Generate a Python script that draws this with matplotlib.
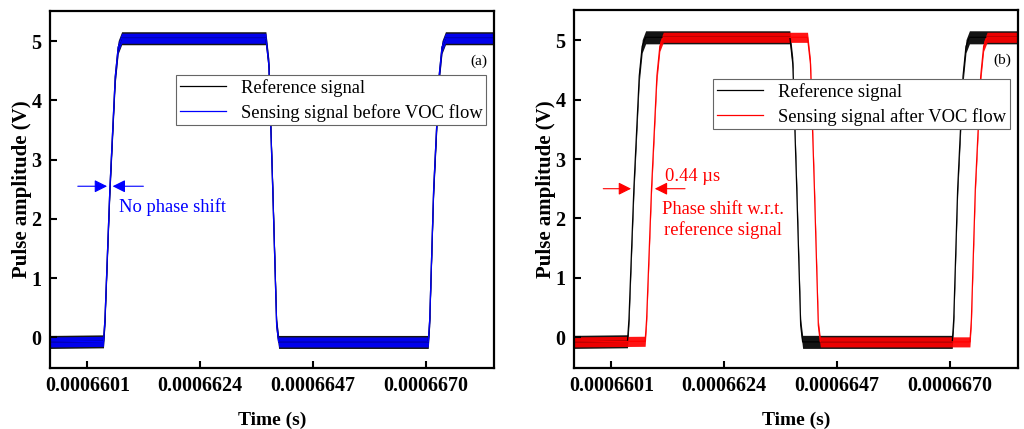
import matplotlib
matplotlib.use("Agg")
import matplotlib.pyplot as plt
import numpy as np
from matplotlib.ticker import FuncFormatter

# corner points of the pulses (time in µs, amplitude in V)
ref_t = [659.34, 660.43, 660.46, 660.56, 660.67, 660.73, 660.80, 663.74, 663.80,
         663.88, 663.96, 664.00, 667.05, 667.08, 667.16, 667.27, 667.33, 667.40, 668.39]
ref_v = [-0.08, -0.07, 0.30, 2.50, 4.40, 4.90, 5.05, 5.05, 4.60,
         2.50, 0.20, -0.08, -0.08, 0.30, 2.50, 4.40, 4.90, 5.05, 5.05]
before_t = ref_t
before_v = ref_v
after_t = [659.34, 660.79, 660.82, 660.92, 661.03, 661.09, 661.16, 664.10, 664.16,
           664.24, 664.32, 664.36, 667.41, 667.44, 667.52, 667.63, 667.69, 667.76, 668.39]
after_v = ref_v
noise_ref = 0.11     # half-width of the noise band on the plateaus
noise_sense = 0.085

xticks = [660.1, 662.4, 664.7, 667.0]
yticks = [0, 1, 2, 3, 4, 5]
xlim = (659.34, 668.39)
ylim = (-0.52, 5.51)

plt.rcParams["font.family"] = "Liberation Serif"

fig = plt.figure(figsize=(10.24, 4.29), dpi=100)
ax_a = fig.add_axes([50 / 1024, 1 - 368 / 429, 444 / 1024, 357 / 429])
ax_b = fig.add_axes([574 / 1024, 1 - 368 / 429, 444 / 1024, 358 / 429])


def trace(ax, t, v, color, w, label):
    t = np.asarray(t)
    v = np.asarray(v)
    ax.fill_between(t, v - w, v + w, color=color, lw=0, alpha=0.92)
    ax.plot(t, v, color=color, lw=0.9, label=label)


def style(ax, tag):
    ax.set_xlim(*xlim)
    ax.set_ylim(*ylim)
    ax.set_xticks(xticks)
    ax.set_yticks(yticks)
    ax.xaxis.set_major_formatter(FuncFormatter(lambda x, _: f"{x * 1e-6:.7f}"))
    ax.tick_params(direction="in", length=5, width=1.5, labelsize=14.5, pad=6)
    for lab in ax.get_xticklabels() + ax.get_yticklabels():
        lab.set_fontweight("bold")
    for sp in ax.spines.values():
        sp.set_linewidth(1.6)
    ax.set_xlabel("Time (s)", fontsize=14, fontweight="bold", labelpad=11)
    ax.set_ylabel("Pulse amplitude (V)", fontsize=15, fontweight="bold", labelpad=0)
    ax.text(0.965, 0.86, tag, transform=ax.transAxes, fontsize=11, ha="center", va="center")


def legend(ax, anchor):
    leg = ax.legend(loc="upper right", bbox_to_anchor=anchor, borderaxespad=0,
                    fontsize=13.3, fancybox=False, framealpha=1, edgecolor="#666666",
                    handlelength=2.5, labelspacing=0.38, borderpad=0.2)
    leg.get_frame().set_linewidth(0.8)


# (a) before VOC flow
trace(ax_a, ref_t, ref_v, "black", noise_ref, "Reference signal")
trace(ax_a, before_t, before_v, "#0000FF", noise_sense, "Sensing signal before VOC flow")
style(ax_a, "(a)")
legend(ax_a, (0.983, 0.82))
arrow_b = dict(arrowstyle="-|>", color="#0000FF", lw=0.8, mutation_scale=19)
ax_a.annotate("", xy=(660.56, 2.55), xytext=(659.85, 2.55), arrowprops=arrow_b)
ax_a.annotate("", xy=(660.56, 2.55), xytext=(661.30, 2.55), arrowprops=arrow_b)
ax_a.text(660.75, 2.19, "No phase shift", color="#0000FF", fontsize=13.3, va="center")

# (b) after VOC flow
trace(ax_b, ref_t, ref_v, "black", noise_ref, "Reference signal")
trace(ax_b, after_t, after_v, "#FF0000", noise_sense, "Sensing signal after VOC flow")
style(ax_b, "(b)")
legend(ax_b, (0.981, 0.807))
arrow_r = dict(arrowstyle="-|>", color="#FF0000", lw=0.8, mutation_scale=19)
ax_b.annotate("", xy=(660.56, 2.50), xytext=(659.88, 2.50), arrowprops=arrow_r)
ax_b.annotate("", xy=(660.93, 2.50), xytext=(661.66, 2.50), arrowprops=arrow_r)
ax_b.text(661.20, 2.71, "0.44 µs", color="#FF0000", fontsize=13.3, va="center")
ax_b.text(662.37, 1.97, "Phase shift w.r.t.\nreference signal", color="#FF0000",
          fontsize=13.3, ha="center", va="center", linespacing=1.2)

fig.savefig("out.png", dpi=100)
